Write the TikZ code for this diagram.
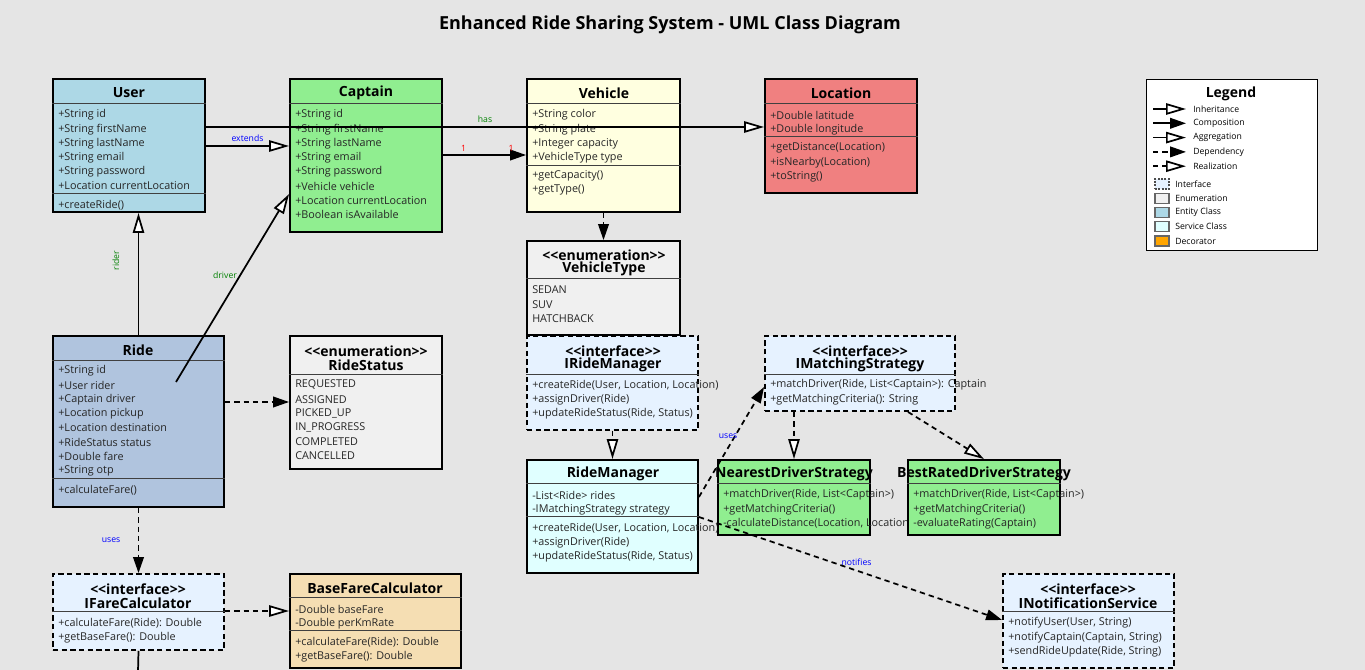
\documentclass[tikz,border=0pt]{standalone}
\usepackage{fontspec}
\setmainfont{Open Sans}[Ligatures=TeXOff]
\usetikzlibrary{arrows.meta,fit,positioning,calc}

\definecolor{bggray}{HTML}{E5E5E5}
\definecolor{entityblue}{HTML}{ADD8E6}
\definecolor{captaingreen}{HTML}{90EE90}
\definecolor{vehicleyellow}{HTML}{FFFFE0}
\definecolor{locationred}{HTML}{F08080}
\definecolor{enumgray}{HTML}{F0F0F0}
\definecolor{ridesteel}{HTML}{B0C4DE}
\definecolor{ifaceblue}{HTML}{E6F2FF}
\definecolor{servicecyan}{HTML}{E0FFFF}
\definecolor{farewheat}{HTML}{F5DEB3}
\definecolor{decorange}{HTML}{FFA500}
\definecolor{labelgreen}{HTML}{008000}

\tikzset{
  classbox/.style={draw=black, line width=1.4pt, inner sep=0pt},
  iface/.style={fill=ifaceblue, dash pattern=on 4pt off 2.5pt},
  sepline/.style={draw=black!75, line width=0.7pt},
  cname/.style={font=\bfseries\fontsize{10.5}{12}\selectfont, inner sep=0pt},
  member/.style={anchor=west, font=\fontsize{8.1}{9}\selectfont, inner sep=0pt, text=black!85},
  lbl/.style={font=\fontsize{6.5}{7}\selectfont, inner sep=1pt},
  legtext/.style={anchor=west, font=\fontsize{6.5}{7}\selectfont, inner sep=0pt},
  swatch/.style={draw=black!60, line width=1pt, inner sep=0pt},
  conn/.style={line width=1.3pt, line join=miter},
  dep/.style={conn, dash pattern=on 4pt off 3pt},
  filled/.style={-{Triangle[length=12pt,width=8pt]}},
  hollow/.style={-{Triangle[length=15pt,width=8.5pt,fill=white]}},
  inh/.style={conn,hollow},
  comp/.style={conn,filled},
  depend/.style={dep,filled},
  real/.style={dep,hollow},
}

\newcommand{\umlclass}[4]{\node[classbox,#2,fit={(#3) (#4)}] (#1) {};}
\newcommand{\sepat}[2]{\draw[sepline] (#1.west |- 0,#2) -- (#1.east |- 0,#2);}
\newcommand{\members}[4]{%
  \foreach \m [count=\i from 0] in {#4}
    \node[member] (#1-\i) at (#2,#3+1+\i*14.2) {\m};}

\begin{document}
\begin{tikzpicture}[x=0.75pt,y=-0.75pt]
  \fill[bggray] (0,0) rectangle (1365,670);
  \useasboundingbox (0,0) rectangle (1365,670);

  \node[font=\bfseries\fontsize{13.5}{15}\selectfont] (title) at (670,25)
    {Enhanced Ride Sharing System - UML Class Diagram};

  % entity classes
  \umlclass{user}{fill=entityblue}{53,79}{205,212}
  \node[cname] (user-t) at (129,93) {User};
  \sepat{user}{103}
  \members{user-a}{58}{114}{+String id,+String firstName,+String lastName,+String email,+String password,+Location currentLocation}
  \sepat{user}{193}
  \members{user-m}{58}{204}{+createRide()}

  \umlclass{captain}{fill=captaingreen}{290,79}{442,232}
  \node[cname] (captain-t) at (366,93) {Captain};
  \sepat{captain}{103}
  \members{captain-a}{295}{114}{+String id,+String firstName,+String lastName,+String email,+String password,+Vehicle vehicle,+Location currentLocation,+Boolean isAvailable}

  \umlclass{vehicle}{fill=vehicleyellow}{527,79}{680,212}
  \node[cname] (vehicle-t) at (604,93) {Vehicle};
  \sepat{vehicle}{103}
  \members{vehicle-a}{532}{114}{+String color,+String plate,+Integer capacity,+VehicleType type}
  \sepat{vehicle}{165}
  \members{vehicle-m}{532}{175}{+getCapacity(),+getType()}

  \umlclass{location}{fill=locationred}{765,79}{917,193}
  \node[cname] (location-t) at (841,93) {Location};
  \sepat{location}{103}
  \members{location-a}{770}{114}{+Double latitude,+Double longitude}
  \sepat{location}{136}
  \members{location-m}{770}{147}{+getDistance(Location),+isNearby(Location),+toString()}

  % enumerations
  \umlclass{vehicletype}{fill=enumgray}{527,241}{680,335}
  \node[cname] (vehicletype-s) at (604,255) {<<enumeration>>};
  \node[cname] (vehicletype-t) at (604,269) {VehicleType};
  \sepat{vehicletype}{278}
  \members{vehicletype-a}{532}{289}{SEDAN,SUV,HATCHBACK}

  \umlclass{ride}{fill=ridesteel}{53,336}{224,507}
  \node[cname] (ride-t) at (138,350) {Ride};
  \sepat{ride}{360}
  \members{ride-a}{58}{370}{+String id,+User rider,+Captain driver,+Location pickup,+Location destination,+RideStatus status,+Double fare,+String otp}
  \sepat{ride}{478}
  \members{ride-m}{58}{489}{+calculateFare()}

  \umlclass{ridestatus}{fill=enumgray}{290,336}{442,469}
  \node[cname] (ridestatus-s) at (366,351) {<<enumeration>>};
  \node[cname] (ridestatus-t) at (366,365) {RideStatus};
  \sepat{ridestatus}{374}
  \members{ridestatus-a}{295}{384}{REQUESTED,ASSIGNED,PICKED\_UP,IN\_PROGRESS,COMPLETED,CANCELLED}

  % services and strategies
  \umlclass{iridemgr}{iface}{527,336}{698,430}
  \node[cname] (iridemgr-s) at (613,351) {<<interface>>};
  \node[cname] (iridemgr-t) at (613,365) {IRideManager};
  \sepat{iridemgr}{374}
  \members{iridemgr-a}{532}{384}{{+createRide(User, Location, Location)},{+assignDriver(Ride)},{+updateRideStatus(Ride, Status)}}

  \umlclass{imatch}{iface}{765,336}{955,411}
  \node[cname] (imatch-s) at (860,351) {<<interface>>};
  \node[cname] (imatch-t) at (860,365) {IMatchingStrategy};
  \sepat{imatch}{374}
  \members{imatch-a}{770}{384}{{+matchDriver(Ride, List<Captain>): Captain},{+getMatchingCriteria(): String}}

  \umlclass{ridemgr}{fill=servicecyan}{527,460}{698,573}
  \node[cname] (ridemgr-t) at (613,474) {RideManager};
  \sepat{ridemgr}{483}
  \members{ridemgr-a}{532}{494}{{-List<Ride> rides},{-IMatchingStrategy strategy}}
  \sepat{ridemgr}{516}
  \members{ridemgr-m}{532}{527}{{+createRide(User, Location, Location)},{+assignDriver(Ride)},{+updateRideStatus(Ride, Status)}}

  \umlclass{nearest}{fill=captaingreen}{718,460}{870,535}
  \node[cname] (nearest-t) at (794,474) {NearestDriverStrategy};
  \sepat{nearest}{483}
  \members{nearest-a}{723}{494}{{+matchDriver(Ride, List<Captain>)},{+getMatchingCriteria()},{-calculateDistance(Location, Location)}}

  \umlclass{bestrated}{fill=captaingreen}{908,460}{1060,535}
  \node[cname] (bestrated-t) at (984,474) {BestRatedDriverStrategy};
  \sepat{bestrated}{483}
  \members{bestrated-a}{913}{494}{{+matchDriver(Ride, List<Captain>)},{+getMatchingCriteria()},{-evaluateRating(Captain)}}

  \umlclass{ifare}{iface}{53,574}{224,650}
  \node[cname] (ifare-s) at (138,589) {<<interface>>};
  \node[cname] (ifare-t) at (138,603) {IFareCalculator};
  \sepat{ifare}{611}
  \members{ifare-a}{58}{622}{{+calculateFare(Ride): Double},{+getBaseFare(): Double}}

  \umlclass{basefare}{fill=farewheat}{290,574}{461,668}
  \node[cname] (basefare-t) at (375,588) {BaseFareCalculator};
  \sepat{basefare}{597}
  \members{basefare-a}{295}{608}{-Double baseFare,-Double perKmRate}
  \sepat{basefare}{630}
  \members{basefare-m}{295}{641}{{+calculateFare(Ride): Double},{+getBaseFare(): Double}}

  \umlclass{inotify}{iface}{1003,574}{1174,668}
  \node[cname] (inotify-s) at (1088,589) {<<interface>>};
  \node[cname] (inotify-t) at (1088,603) {INotificationService};
  \sepat{inotify}{611}
  \members{inotify-a}{1008}{622}{{+notifyUser(User, String)},{+notifyCaptain(Captain, String)},{+sendRideUpdate(Ride, String)}}

  % relations
  \coordinate (ridedrv) at (176,382);
  \coordinate (offpage) at (138,672);
  \draw[inh] (user.east |- 0,127) -- node[lbl,text=labelgreen,above=2pt] {has} (location.west |- 0,127);
  \draw[inh] (user.east |- 0,146) -- node[lbl,text=blue,above=2pt] {extends} (captain.west |- 0,146);
  \draw[comp] (captain.east |- 0,155)
    -- node[lbl,text=red,pos=0.25,above=1pt] {1} node[lbl,text=red,pos=0.82,above=1pt] {1}
    (vehicle.west |- 0,155);
  \draw[depend] (vehicle.south) -- (vehicletype.north);
  \draw[inh] (ride.north) -- node[lbl,text=labelgreen,pos=0.61,xshift=-17pt,rotate=90] {rider} (ride.north |- user.south);
  \draw[inh] (ridedrv) -- node[lbl,text=labelgreen,pos=0.57,left=1pt] {driver} (captain.west |- 0,194);
  \draw[depend] (ride.east |- 0,402) -- (ridestatus.west |- 0,402);
  \draw[depend] (ride.south) -- node[lbl,text=blue,left=12pt] {uses} (ifare.north);
  \draw[real] (ifare.east |- 0,611) -- (basefare.west |- 0,611);
  \draw[conn] (ifare.south) -- (offpage);
  \draw[real] (iridemgr.south) -- (ridemgr.north);
  \draw[depend] (ridemgr.east |- 0,497) -- node[lbl,text=blue,pos=0.55,xshift=-5pt] {uses} (imatch.west |- 0,387);
  \draw[real] (imatch.south -| nearest.north) -- (nearest.north);
  \draw[real] ($(imatch.south)!0.5!(imatch.south east)$) -- (bestrated.north);
  \draw[depend] (ridemgr.east |- 0,517) -- node[lbl,text=blue,pos=0.52,above=2pt] {notifies} (inotify.west |- 0,620);

  % legend
  \node[draw=black, line width=0.7pt, fill=white, inner sep=0pt, fit={(1146,79) (1317,250)}] (legend) {};
  \node[font=\bfseries\fontsize{10.5}{12}\selectfont, inner sep=0pt] (legend-t) at (1231,94) {Legend};
  \foreach \sty/\txt [count=\i from 0] in {inh/Inheritance, comp/Composition, inh/Aggregation, depend/Dependency, real/Realization} {
    \coordinate (lg-s\i) at (1153,109+\i*14.3);
    \coordinate (lg-e\i) at (1186,109+\i*14.3);
    \draw[\sty] (lg-s\i) -- (lg-e\i);
    \node[legtext] (lg-t\i) at (1193,109+\i*14.3) {\txt};
  }
  \node[swatch, draw=black!70, dash pattern=on 1.5pt off 1pt, fill=ifaceblue, fit={(1155,179) (1169,189)}] (sw-0) {};
  \node[legtext] (sw-t0) at (1175,184) {Interface};
  \foreach \fc/\txt [count=\i from 1] in {enumgray/Enumeration, entityblue/Entity Class, servicecyan/Service Class, decorange/Decorator} {
    \node[swatch, fill=\fc, fit={(1155,179+\i*14.25) (1169,189+\i*14.25)}] (sw-\i) {};
    \node[legtext] (sw-t\i) at (1175,184+\i*14.25) {\txt};
  }
\end{tikzpicture}
\end{document}
